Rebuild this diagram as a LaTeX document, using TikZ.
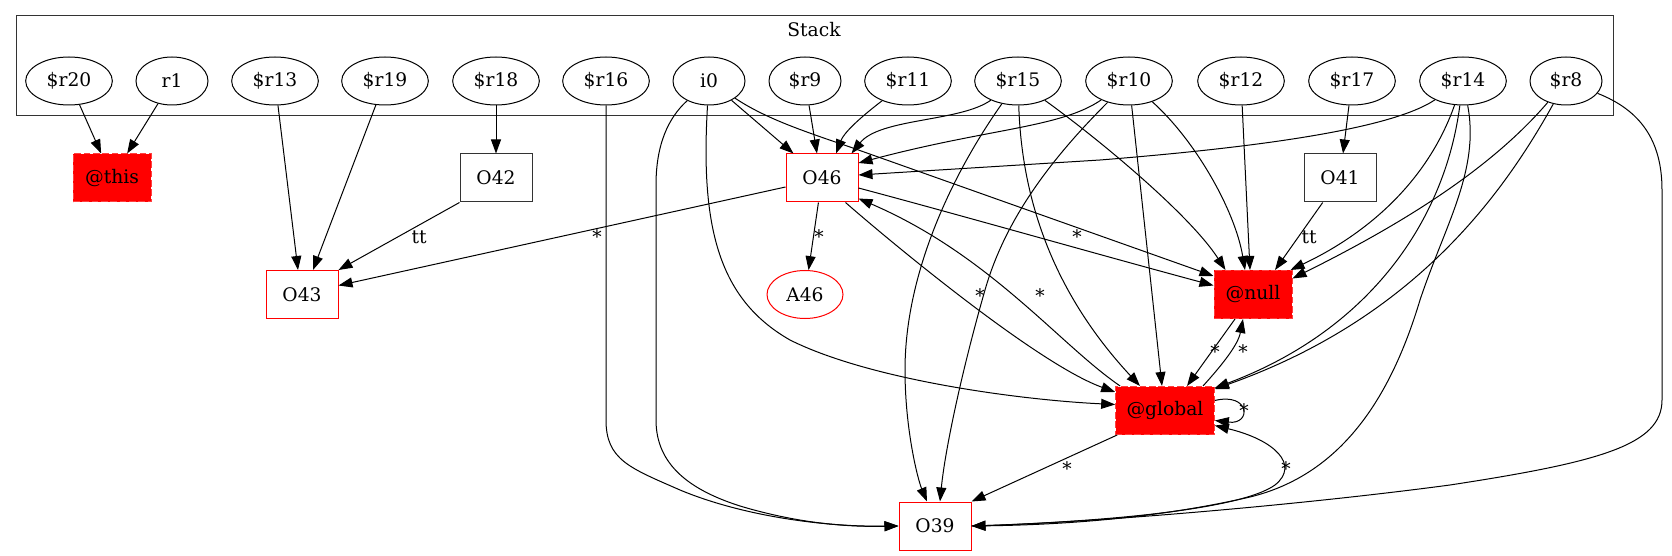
\documentclass[tikz,border=0pt]{standalone}
\usepackage{fontspec}
\setmainfont{DejaVu Serif}
\usetikzlibrary{shapes.geometric,arrows.meta,calc}
\begin{document}
\begin{tikzpicture}[x=0.75pt,y=-0.75pt,
  font=\fontsize{14pt}{17pt}\selectfont,
  sv/.style={ellipse,draw,line width=0.75pt,minimum width=65pt,minimum height=36pt,inner sep=0pt},
  svs/.style={sv,minimum width=54pt},
  obj/.style={rectangle,draw=red,line width=0.75pt,minimum width=54pt,minimum height=36pt,inner sep=0pt},
  objk/.style={obj,draw=black!80},
  spec/.style={rectangle,fill=red,draw=red!75!white,dash pattern=on 5pt off 2pt,line width=0.75pt,minimum height=36pt,inner sep=0pt},
  e/.style={draw,line width=0.75pt,-{Triangle[length=10.5pt,width=7.5pt]}},
  lbl/.style={inner sep=0pt}
]
\useasboundingbox (0,0) rectangle (1672,556);
% cluster
\node[draw=black!80,line width=0.75pt,minimum width=1197.75pt,minimum height=75pt,inner sep=0pt] (stack) at (814.5,66) {};
\node[lbl] (stacklbl) at (814,30) {Stack};
% stack variables
\node[sv] (r20) at (69,81) {\$r20};
\node[svs] (r1) at (172,81) {r1};
\node[sv] (r13) at (275,81) {\$r13};
\node[sv] (r19) at (385,81) {\$r19};
\node[sv] (r18) at (496,81) {\$r18};
\node[sv] (r16) at (606,81) {\$r16};
\node[svs] (i0) at (709,81) {i0};
\node[svs] (r9) at (805,81) {\$r9};
\node[sv] (r11) at (908,81) {\$r11};
\node[sv] (r15) at (1018,81) {\$r15};
\node[sv] (r10) at (1129,81) {\$r10};
\node[sv] (r12) at (1241,81) {\$r12};
\node[sv] (r17) at (1352,81) {\$r17};
\node[sv] (r14) at (1463,81) {\$r14};
\node[svs] (r8) at (1566,81) {\$r8};
% objects
\node[spec,minimum width=58.5pt] (this) at (112,178) {@this};
\node[objk] (O42) at (496,178) {O42};
\node[obj] (O46) at (822,178) {O46};
\node[objk] (O41) at (1340,178) {O41};
\node[obj] (O43) at (302,294.5) {O43};
\node[ellipse,draw=red,line width=0.75pt,minimum width=57pt,minimum height=36pt,inner sep=0pt] (A46) at (805,294.5) {A46};
\node[spec,minimum width=58.5pt] (null) at (1253,294.5) {@null};
\node[spec,minimum width=74pt] (glob) at (1165,410.5) {@global};
\node[obj] (O39) at (935,526) {O39};
% edges
\draw[e] (r20) -- (this);
\draw[e] (r1) -- (this);
\draw[e] (r13) -- ($(O43.north)+(-4,0)$);
\draw[e] (r19) -- ($(O43.north)+(11,0)$);
\draw[e] (r18) -- (O42);
\draw[e] (O42.south west) -- (O43.north east);
\draw[e] ($(O46.west)+(0,9)$) -- ($(O43.east)+(0,-9)$);
\draw[e] (r16) -- (606,420) .. controls (606,460) and (630,468) .. (680,490) .. controls (740,515) and (820,527) .. (O39.west);
\draw[e] (i0) .. controls (668,118) and (656,145) .. (656,185) -- (656,420) .. controls (656,465) and (690,490) .. (740,506) .. controls (800,524) and (850,527) .. (O39.west);
\draw[e] (i0) -- (O46);
\draw[e] (i0) .. controls (765,118) and (800,130) .. (850,147) -- ($(null.north west)+(0,6)$);
\draw[e] (i0) .. controls (700,230) and (720,300) .. (790,340) .. controls (870,380) and (1020,400) .. ($(glob.west)+(0,-6)$);
\draw[e] (r9) -- ($(O46.north)+(-5,0)$);
\draw[e] (r11) .. controls (870,110) and (845,130) .. ($(O46.north)+(14,0)$);
\draw[e] (r15) .. controls (960,122) and (880,118) .. ($(O46.north east)+(-7,0)$);
\draw[e] (r15) .. controls (955,170) and (905,270) .. (905,370) .. controls (905,430) and (918,480) .. ($(O39.north)+(-8,0)$);
\draw[e] (r15) .. controls (1022,210) and (1060,300) .. ($(glob.north)+(-25,0)$);
\draw[e] (r15) .. controls (1100,140) and (1190,215) .. ($(null.north west)+(12,0)$);
\draw[e] (r10) .. controls (1060,128) and (990,128) .. ($(O46.east)+(0,-15)$);
\draw[e] (r10) .. controls (1050,160) and (1005,220) .. (985,290) .. controls (962,370) and (945,450) .. ($(O39.north)+(5,0)$);
\draw[e] (r10) -- ($(glob.north)+(-3,0)$);
\draw[e] (r10) .. controls (1195,140) and (1235,210) .. ($(null.north)+(-8,0)$);
\draw[e] (r12) -- ($(null.north)+(-3,0)$);
\draw[e] (r17) -- (O41);
\draw[e] (O41) -- ($(null.north)+(22,0)$);
\draw[e] (r14) .. controls (1390,130) and (1250,148) .. (1100,160) -- ($(O46.east)+(0,-3)$);
\draw[e] (r14) .. controls (1430,175) and (1375,230) .. ($(null.north east)+(-2,0)$);
\draw[e] (r8) .. controls (1490,170) and (1400,225) .. ($(null.east)+(0,-16)$);
\draw[e] (r14) .. controls (1445,220) and (1370,330) .. ($(glob.north east)+(0,2)$);
\draw[e] (r8) .. controls (1500,200) and (1410,320) .. ($(glob.north east)+(0,3)$);
\draw[e] (r14) .. controls (1480,170) and (1445,225) .. (1420,300) .. controls (1390,400) and (1340,475) .. (1250,497) .. controls (1150,520) and (1050,525) .. (O39.east);
\draw[e] (r8) .. controls (1640,110) and (1662,140) .. (1662,190) -- (1662,400) .. controls (1662,445) and (1600,462) .. (1450,485) .. controls (1300,505) and (1100,522) .. (O39.east);
\draw[e] (O46) -- (A46);
\draw[e] ($(O46.east)+(0,10)$) .. controls (960,215) and (1100,255) .. ($(null.west)+(0,-9)$);
\draw[e] ($(O46.south east)+(-13,0)$) .. controls (900,250) and (1040,365) .. ($(glob.north west)+(0,6)$);
\draw[e] ($(glob.north west)+(5,0)$) .. controls (1060,345) and (990,255) .. ($(O46.south east)+(0,-4)$);
\draw[e] ($(null.south)+(-18,0)$) -- ($(glob.north)+(22,0)$);
\draw[e] ($(glob.north)+(38,0)$) .. controls (1222,365) and (1238,345) .. ($(null.south)+(-10,0)$);
\draw[e] ($(glob.east)+(0,-10)$) .. controls (1250,392) and (1252,425) .. ($(glob.east)+(0,10)$);
\draw[e] ($(glob.south west)+(2,0)$) -- (O39.north east);
\draw[e] (O39.east) .. controls (1100,522) and (1240,510) .. (1275,485) .. controls (1300,465) and (1275,440) .. ($(glob.east)+(0,15)$);
% labels
\node[lbl] (l1) at (419,237) {tt};
\node[lbl] (l2) at (597,237) {*};
\node[lbl] (l3) at (819,237) {*};
\node[lbl] (l4) at (1077,237) {*};
\node[lbl] (l5) at (1309,237) {tt};
\node[lbl] (l6) at (980,296) {*};
\node[lbl] (l7) at (1040,296) {*};
\node[lbl] (l8) at (1215,352) {*};
\node[lbl] (l9) at (1243,352) {*};
\node[lbl] (l10) at (1244,411) {*};
\node[lbl] (l11) at (1067,469) {*};
\node[lbl] (l12) at (1286,469) {*};
\end{tikzpicture}
\end{document}
